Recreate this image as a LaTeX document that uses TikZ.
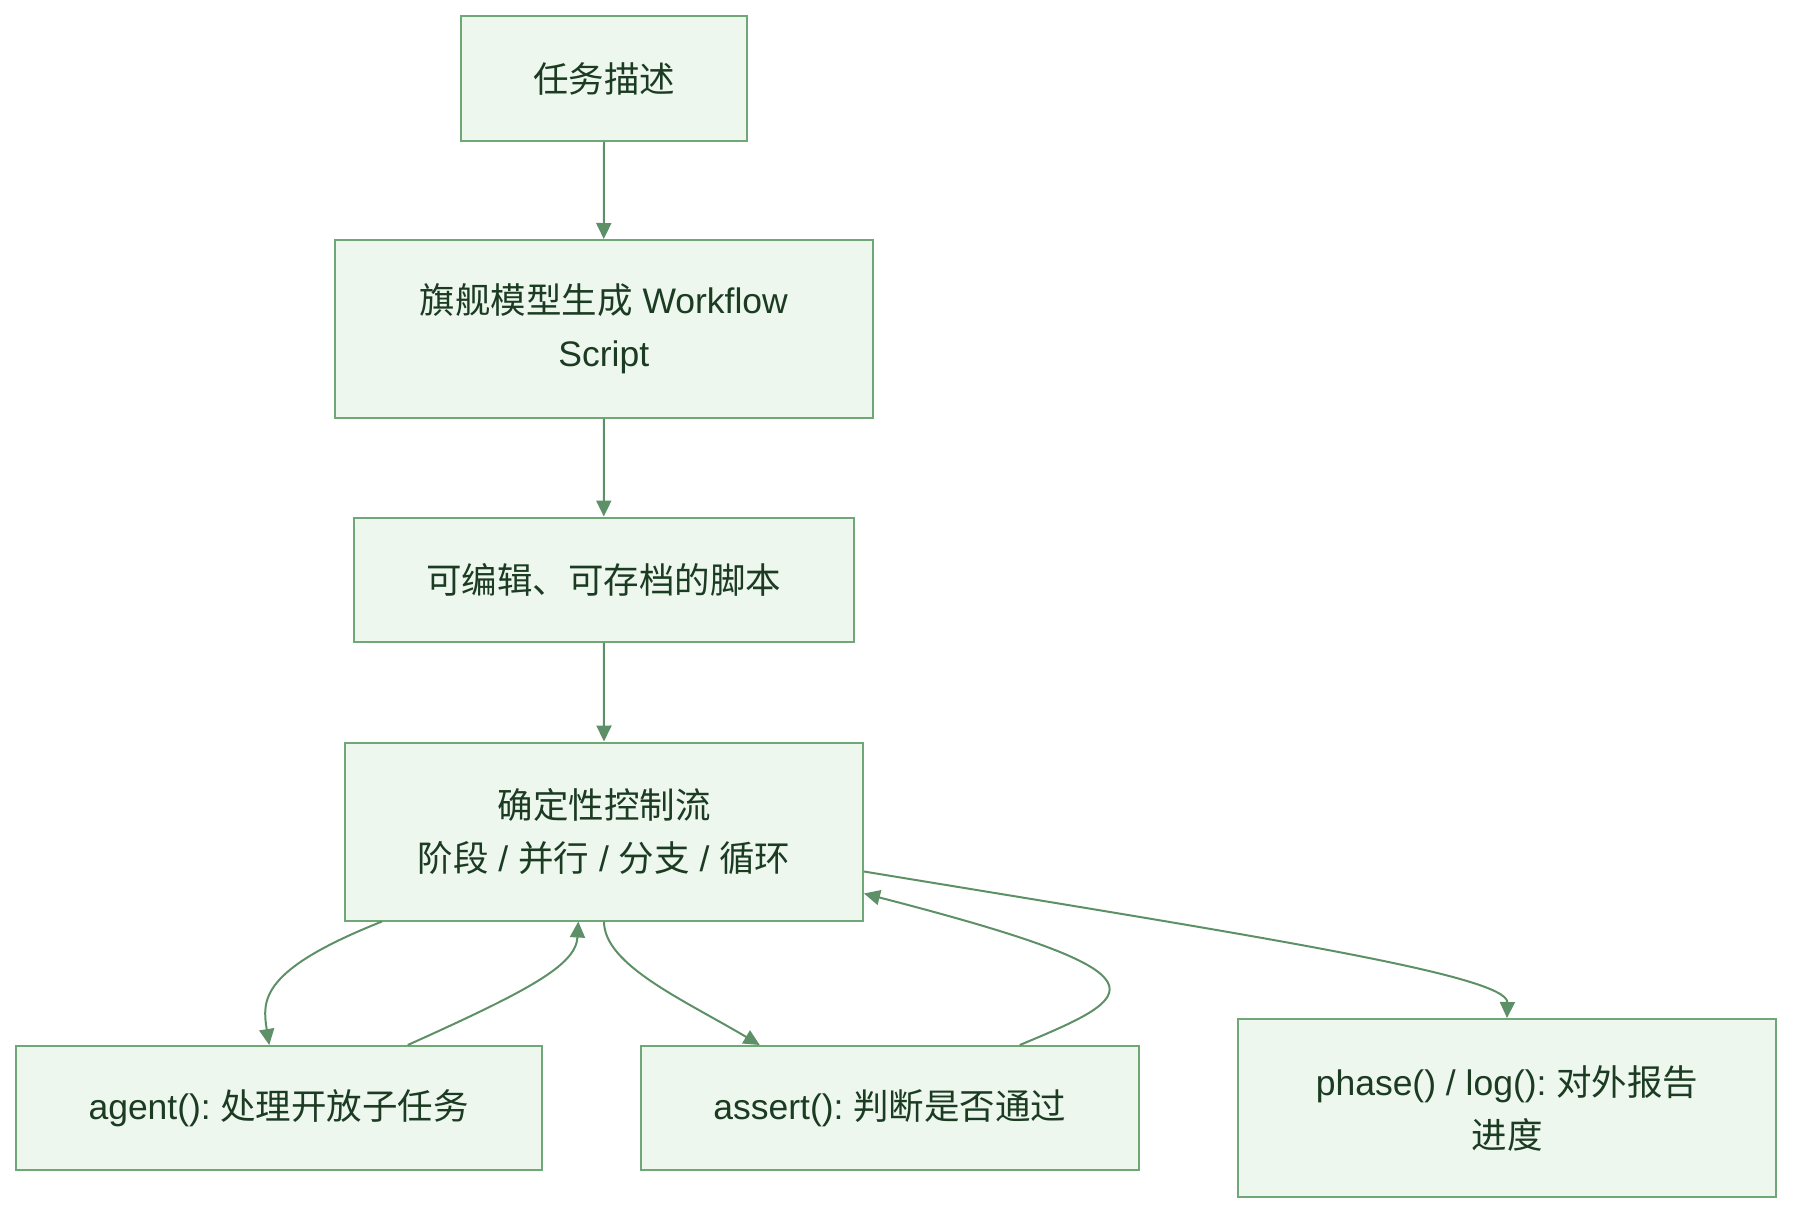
\documentclass[tikz,border=0pt]{standalone}
\usepackage{fontspec}
\setmainfont{Liberation Sans}
\newfontfamily\cjk{Noto Sans CJK SC}
\usetikzlibrary{arrows.meta}
\definecolor{boxfill}{HTML}{EDF7ED}
\definecolor{boxline}{HTML}{6FA777}
\definecolor{edgec}{HTML}{5E9067}
\definecolor{textc}{HTML}{1B3B22}
\begin{document}
\begin{tikzpicture}[x=1pt,y=-1pt,
  box/.style={draw=boxline, fill=boxfill, line width=2pt, inner sep=0pt,
    align=center, text=textc, font=\fontsize{35.5}{53}\selectfont},
  edge/.style={draw=edgec, line width=2pt, -{Triangle[length=16pt,width=15pt]}}]
\useasboundingbox (0,0) rectangle (1810,1224);

\node[box, minimum width=286pt, minimum height=125pt] (t1) at (604,78.5) {{\cjk 任务描述}};
\node[box, minimum width=538.5pt, minimum height=177.5pt] (t2) at (603.75,328.75) {{\cjk 旗舰模型生成} Workflow\\Script};
\node[box, minimum width=499.6pt, minimum height=124pt] (t3) at (603.8,579.5) {{\cjk 可编辑、可存档的脚本}};
\node[box, minimum width=518pt, minimum height=178pt] (t4) at (604,831.5) {{\cjk 确定性控制流}\\{\cjk 阶段} / {\cjk 并行} / {\cjk 分支} / {\cjk 循环}};
\node[box, minimum width=525.5pt, minimum height=124pt] (t5) at (278.75,1108) {agent():\hspace{-0.1em} {\cjk 处理开放子任务}};
\node[box, minimum width=497.5pt, minimum height=124pt] (t6) at (889.75,1108) {assert():\hspace{-0.1em} {\cjk 判断是否通过}};
\node[box, minimum width=538pt, minimum height=178pt] (t7) at (1507,1108) {phase() / log():\hspace{-0.1em} {\cjk 对外报告}\\{\cjk 进度}};

\draw[edge] (t1.south) -- (t2.north);
\draw[edge] (t2.south) -- (t3.north);
\draw[edge] (t3.south) -- (t4.north);

\draw[edge] ([xshift=-222pt]t4.south) .. controls (260,970) and (262,1000) .. ([xshift=-9.5pt]t5.north);
\draw[edge] ([xshift=129pt]t5.north) .. controls (530,990) and (576,965) .. ([xshift=-25.7pt]t4.south);
\draw[edge] (t4.south) .. controls (604,965) and (684,1000) .. ([xshift=-130pt]t6.north);
\draw[edge] ([xshift=130pt]t6.north) .. controls (1140,995) and (1180,975) .. ([yshift=-62pt]t4.east);
\draw[edge] ([yshift=-40pt]t4.east) .. controls (1250,935) and (1508,975) .. (t7.north);
\end{tikzpicture}
\end{document}
